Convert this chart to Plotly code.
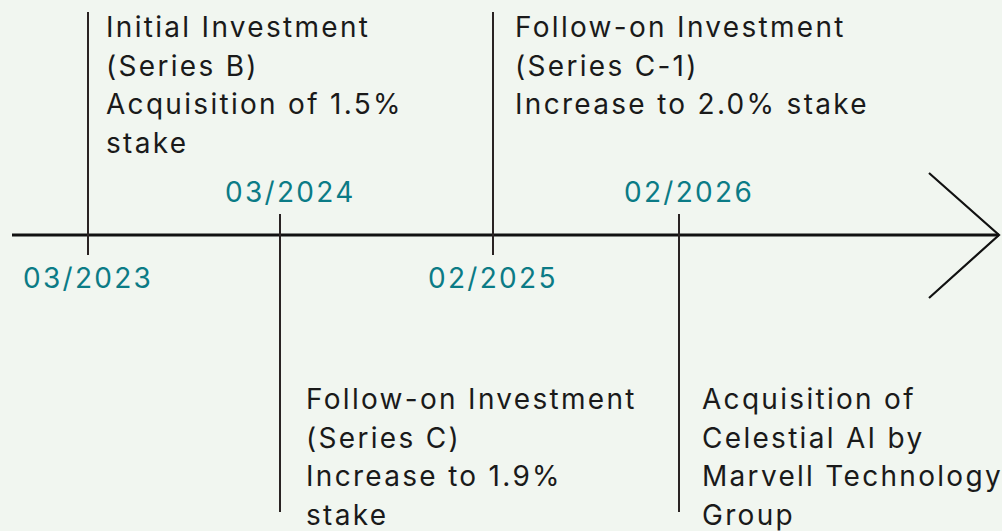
import plotly.graph_objects as go

# ---- data ----
event_dates = ["03/2023", "03/2024", "02/2025", "02/2026"]
event_lines = [
    ["Initial Investment", "(Series B)", "Acquisition of 1.5%", "stake"],
    ["Follow-on Investment", "(Series C)", "Increase to 1.9%", "stake"],
    ["Follow-on Investment", "(Series C-1)", "Increase to 2.0% stake"],
    ["Acquisition of", "Celestial AI by", "Marvell Technology", "Group"],
]
event_side = ["top", "bottom", "top", "bottom"]
# schematic position of each event along the timeline (timeline units)
event_pos = [88, 280, 493, 679]

# ---- canvas (timeline units == pixels) ----
W, H = 1002, 531
AXIS_Y = 235
BG = "#f1f6f0"
INK = "#2a2323"
TEAL = "#0b7b86"
FONT = "Inter"
LINE_GAP = 38.7
TEXT_DX = [17, 25, 21, 22]

fig = go.Figure()

# main timeline
fig.add_trace(go.Scatter(x=[12, 999], y=[AXIS_Y, AXIS_Y], mode="lines",
                         line=dict(color="#111111", width=3), hoverinfo="skip"))
# arrow head
fig.add_trace(go.Scatter(x=[929, 999, 929], y=[173, AXIS_Y, 298], mode="lines",
                         line=dict(color="#111111", width=2.2), hoverinfo="skip"))

annotations = []
for i, (pos, date, lines, side) in enumerate(zip(event_pos, event_dates, event_lines, event_side)):
    if side == "top":
        y0, y1 = 12, AXIS_Y + 20
        date_y = 278
        date_x = pos
        first_y = 27
    else:
        y0, y1 = AXIS_Y - 21, 512
        date_y = 192
        date_x = pos + 10
        first_y = 399
    fig.add_trace(go.Scatter(x=[pos, pos], y=[y0, y1], mode="lines",
                             line=dict(color=INK, width=2), hoverinfo="skip"))
    annotations.append(dict(x=date_x, y=date_y, text=date, showarrow=False,
                            xanchor="center", yanchor="middle",
                            font=dict(family=FONT, size=28, color=TEAL)))
    for k, ln in enumerate(lines):
        annotations.append(dict(x=pos + TEXT_DX[i], y=first_y + k * LINE_GAP, text=ln,
                                showarrow=False, xanchor="left", yanchor="middle",
                                align="left", borderpad=0,
                                font=dict(family=FONT, size=28, color="#1a1a1a")))

fig.update_layout(
    width=W, height=H,
    margin=dict(l=0, r=0, t=0, b=0),
    paper_bgcolor=BG, plot_bgcolor=BG,
    showlegend=False,
    xaxis=dict(range=[0, W], visible=False, fixedrange=True),
    yaxis=dict(range=[H, 0], visible=False, fixedrange=True),
    annotations=annotations,
)

post = """
document.body.style.margin='0';
document.body.style.overflow='hidden';
function ls(){document.querySelectorAll('.annotation-text').forEach(function(t){t.style.letterSpacing='2.3px';});}
ls(); setTimeout(ls, 50); setTimeout(ls, 300);
"""
fig.write_html("out.html", post_script=post, config={"displayModeBar": False})
